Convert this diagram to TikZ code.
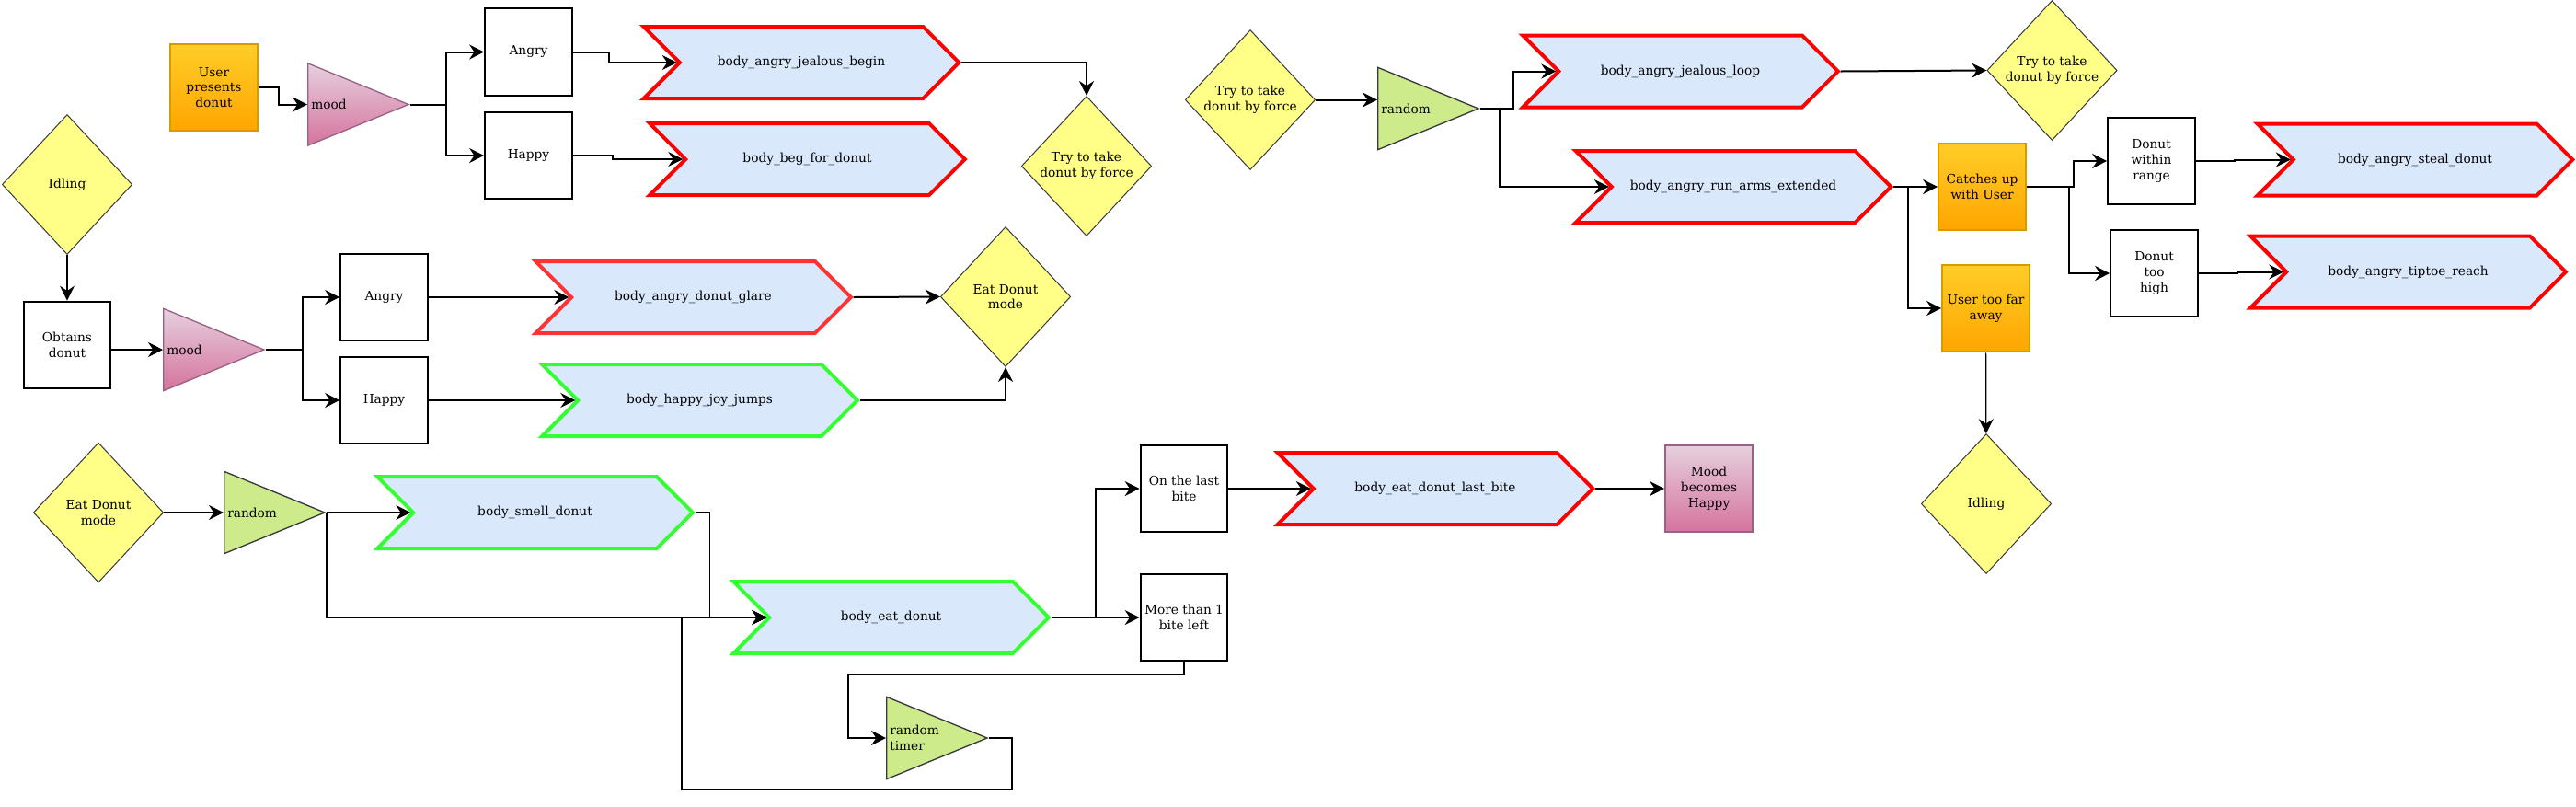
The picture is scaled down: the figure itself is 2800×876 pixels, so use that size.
\documentclass[tikz,border=0pt]{standalone}
\usepackage{fontspec}
\setmainfont{DejaVu Serif}
\usetikzlibrary{arrows.meta,positioning,calc,shapes.geometric,shapes.symbols}

\definecolor{notefill}{HTML}{FFFF88}
\definecolor{noteline}{HTML}{36393D}
\definecolor{chevfill}{HTML}{DAE8FC}
\definecolor{badline}{HTML}{FF0000}
\definecolor{glareline}{HTML}{FF3333}
\definecolor{goodline}{HTML}{33FF33}
\definecolor{evtop}{HTML}{FFCD28}
\definecolor{evbot}{HTML}{FFA500}
\definecolor{evline}{HTML}{D79B00}
\definecolor{pinktop}{HTML}{E6D0DE}
\definecolor{pinkbot}{HTML}{D5739D}
\definecolor{pinkline}{HTML}{996185}
\definecolor{randfill}{HTML}{CDEB8B}

\tikzset{
  every node/.style={font=\fontsize{10.3}{12.6}\selectfont, inner sep=0pt, align=center},
  box/.style={rectangle, draw=black, line width=1.5pt, fill=white, minimum width=71pt, minimum height=71pt},
  event/.style={rectangle, draw=evline, line width=1.5pt, top color=evtop, bottom color=evbot, minimum width=71pt, minimum height=71pt},
  moodbox/.style={rectangle, draw=pinkline, line width=1.5pt, top color=pinktop, bottom color=pinkbot, minimum width=71pt, minimum height=71pt},
  cond/.style={diamond, draw=noteline, line width=0.75pt, fill=notefill, minimum width=106pt, minimum height=114pt},
  pick/.style={isosceles triangle, isosceles triangle stretches, shape border rotate=0, anchor=west, line width=1pt, minimum width=67pt, minimum height=82pt},
  pickmood/.style={pick, draw=pinkline, top color=pinktop, bottom color=pinkbot},
  pickrand/.style={pick, draw=noteline, fill=randfill},
  anim/.style={signal, signal to=east, signal from=west, signal pointer angle=90, fill=chevfill, line width=3pt, minimum width=257pt, minimum height=58.5pt},
  animbad/.style={anim, draw=badline},
  animgood/.style={anim, draw=goodline},
  flow/.style={-{Stealth[length=12pt,width=12pt,inset=4pt]}, line width=1.5pt},
  thinflow/.style={flow, line width=0.9pt},
}

\begin{document}
\begin{tikzpicture}[x=0.75pt,y=-0.75pt]
  \path[use as bounding box, fill=white] (0,0) rectangle (2800,876);

  % User offers the donut
  \node[event] (offer) at (232.5,95) {User\\presents\\donut};
  \node[pickmood, label={[anchor=west,xshift=3pt]west:mood}] (mood1) at (334,113.5) {};
  \node[box] (angry1) at (574.5,56.5) {Angry};
  \node[box] (happy1) at (574.5,169) {Happy};
  \node[animbad] (jealous) at (871,68) {body\_angry\_jealous\_begin};
  \node[animbad] (beg) at (877.5,173) {body\_beg\_for\_donut};
  \node[cond] (grab1) at (1181,180.5) {Try to take\\donut by force};

  % Robot gets the donut
  \node[cond] (idle1) at (73,200.5) {Idling};
  \node[box] (obtain) at (73,375) {Obtains\\donut};
  \node[pickmood, label={[anchor=west,xshift=3pt]west:mood}] (mood2) at (177,380) {};
  \node[box] (angry2) at (417.5,323) {Angry};
  \node[box] (happy2) at (417.5,435) {Happy};
  \node[anim, draw=glareline] (glare) at (753.5,323) {body\_angry\_donut\_glare};
  \node[animgood] (joy) at (760.5,435) {body\_happy\_joy\_jumps};
  \node[cond] (eatmode1) at (1093,322.5) {Eat Donut\\mode};

  % Eating
  \node[cond] (eatmode2) at (107,557) {Eat Donut\\mode};
  \node[pickrand, label={[anchor=west,xshift=3pt]west:random}] (rand1) at (243,557) {};
  \node[animgood] (smell) at (581.5,557) {body\_smell\_donut};
  \node[animgood] (eat) at (968.5,671) {body\_eat\_donut};
  \node[pickrand, label={[anchor=west,xshift=3pt,align=left]west:random\\timer}] (timer) at (963,802) {};
  \node[box] (lastbite) at (1287,531) {On the last\\bite};
  \node[box] (morebite) at (1287,671) {More than 1\\bite left};
  \node[animbad] (finish) at (1560,531) {body\_eat\_donut\_last\_bite};
  \node[moodbox] (pleased) at (1857.5,531) {Mood\\becomes\\Happy};

  % Grabbing
  \node[cond] (grab2) at (1359,108.5) {Try to take\\donut by force};
  \node[pickrand, label={[anchor=west,xshift=3pt]west:random}] (rand2) at (1497,118) {};
  \node[animbad] (loop) at (1826.5,77.5) {body\_angry\_jealous\_loop};
  \node[cond] (grab3) at (2230.5,76.5) {Try to take\\donut by force};
  \node[animbad] (chase) at (1884,203) {body\_angry\_run\_arms\_extended};
  \node[event] (caught) at (2154.5,203) {Catches up\\with User};
  \node[event] (far) at (2158.5,335) {User too far\\away};
  \node[cond] (idle2) at (2159,547.5) {Idling};
  \node[box] (reach) at (2338.5,175) {Donut\\within\\range};
  \node[box] (high) at (2341.5,297) {Donut\\too\\high};
  \node[animbad] (steal) at (2625,173.5) {body\_angry\_steal\_donut};
  \node[animbad] (tiptoe) at (2617.5,295.5) {body\_angry\_tiptoe\_reach};

  % Edges
  \draw[flow] (offer.east) -- ++(22,0) |- (mood1.west);
  \draw[flow] (mood1.east) -- ++(39,0) |- (angry1.west);
  \draw[flow] (mood1.east) -- ++(39,0) |- (happy1.west);
  \draw[flow] (angry1.east) -- ++(39,0) |- (jealous.west);
  \draw[flow] (happy1.east) -- ++(43,0) |- (beg.west);
  \draw[flow] (jealous.east) -| (grab1.north);

  \draw[thinflow] (idle1) -- (obtain);
  \draw[flow] (obtain.east |- mood2.west) -- (mood2.west);
  \draw[flow] (mood2.east) -- ++(40,0) |- (angry2.west);
  \draw[flow] (mood2.east) -- ++(40,0) |- (happy2.west);
  \draw[flow] (angry2) -- (glare.west);
  \draw[flow] (happy2) -- (joy.west);
  \draw[flow] (glare.east) -- (eatmode1.west);
  \draw[flow] (joy.east) -| (eatmode1.south);

  \draw[flow] (eatmode2) -- (rand1.west);
  \draw[flow] (rand1.east) -- (smell.west);
  \draw[flow] (rand1.east) |- (eat.west);
  \draw[thinflow] (smell.east) -- ++(16,0) |- (eat.west);
  \draw[flow] (timer.east) -- ++(25,0) |- ++(-359,56) |- (eat.west);
  \draw[flow] (morebite.south) |- ++(-365,14) |- (timer.west);
  \draw[flow] (eat.east) -- ++(48,0) |- (lastbite.west);
  \draw[flow] (eat.east) -- (morebite.west);
  \draw[flow] (lastbite) -- (finish.west);
  \draw[flow] (finish.east) -- (pleased);

  \draw[flow] (grab2.east) -- (grab2.east -| rand2.west);
  \draw[flow] (rand2.east) -- ++(36,0) |- (loop.west);
  \draw[flow] (rand2.east) -- ++(21,0) |- (chase.west);
  \draw[flow] (loop.east) -- (grab3.west);
  \draw[flow] (chase.east) -- (caught);
  \draw[flow] (chase.east) -- ++(16,0) |- (far.west);
  \draw[thinflow] (far) -- (idle2);
  \draw[flow] (caught.east) -- ++(51,0) |- (reach.west);
  \draw[flow] (caught.east) -- ++(46,0) |- (high.west);
  \draw[flow] (reach.east) -- ++(42,0) |- (steal.west);
  \draw[flow] (high.east) -- ++(42,0) |- (tiptoe.west);
\end{tikzpicture}
\end{document}
